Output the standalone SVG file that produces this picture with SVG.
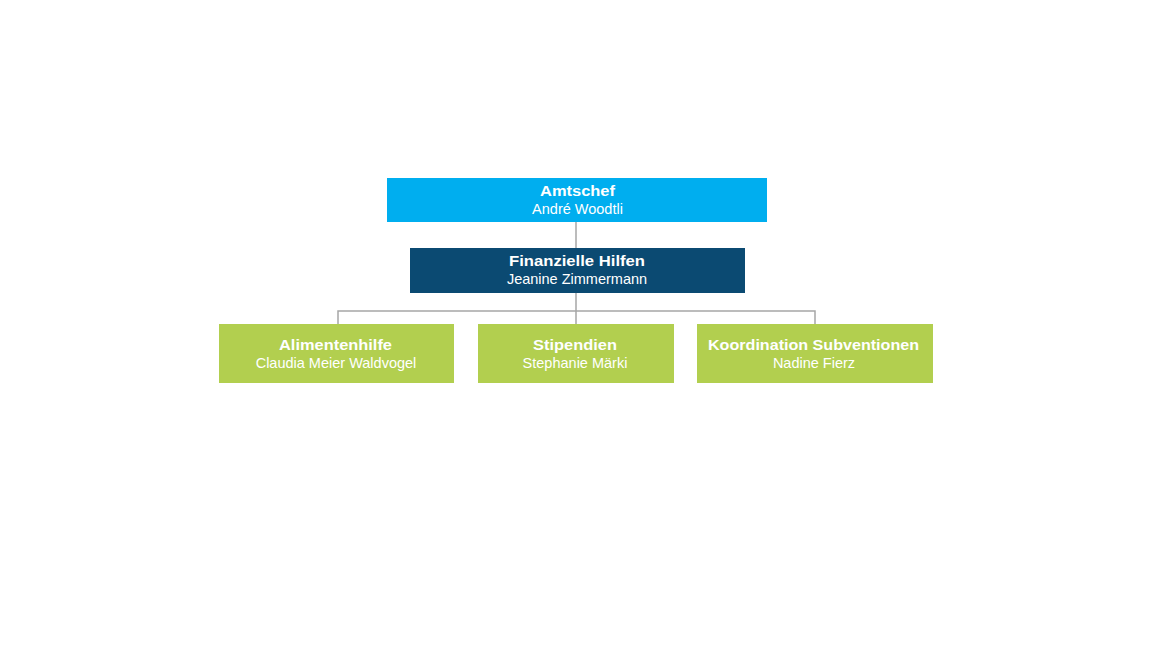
<svg xmlns="http://www.w3.org/2000/svg" width="1152" height="648" viewBox="0 0 1152 648">
<style>
text{font-family:"Liberation Sans",Arial,sans-serif;font-size:14.5px;fill:#fff;text-anchor:middle}
.t{font-weight:bold;font-size:14.5px}
.c{fill:none;stroke:#a6a6a6;stroke-width:1.5}
</style>
<rect width="1152" height="648" fill="#fff"/>
<g id="connectors">
<path class="c" d="M576 222V248M576 293V311M338 324V311H815V324M576 311V324"/>
</g>
<g id="amtschef">
<rect x="387" y="178" width="380" height="44" fill="#00aeef"/>
<text class="t" x="577.5" y="196" textLength="75" lengthAdjust="spacingAndGlyphs">Amtschef</text>
<text x="577.5" y="214">André Woodtli</text>
</g>
<g id="finanzielle-hilfen">
<rect x="410" y="248" width="335" height="45" fill="#0b4a72"/>
<text class="t" x="577" y="266" textLength="136" lengthAdjust="spacingAndGlyphs">Finanzielle Hilfen</text>
<text x="577" y="284">Jeanine Zimmermann</text>
</g>
<g id="alimentenhilfe">
<rect x="219" y="324" width="235" height="59" fill="#b2cf4f"/>
<text class="t" x="335.5" y="350" textLength="113" lengthAdjust="spacingAndGlyphs">Alimentenhilfe</text>
<text x="336" y="368">Claudia Meier Waldvogel</text>
</g>
<g id="stipendien">
<rect x="478" y="324" width="196" height="59" fill="#b2cf4f"/>
<text class="t" x="575" y="350" textLength="84" lengthAdjust="spacingAndGlyphs">Stipendien</text>
<text x="575" y="368">Stephanie Märki</text>
</g>
<g id="koordination">
<rect x="697" y="324" width="236" height="59" fill="#b2cf4f"/>
<text class="t" x="813.5" y="350" textLength="211" lengthAdjust="spacingAndGlyphs">Koordination Subventionen</text>
<text x="814" y="368">Nadine Fierz</text>
</g>
</svg>
